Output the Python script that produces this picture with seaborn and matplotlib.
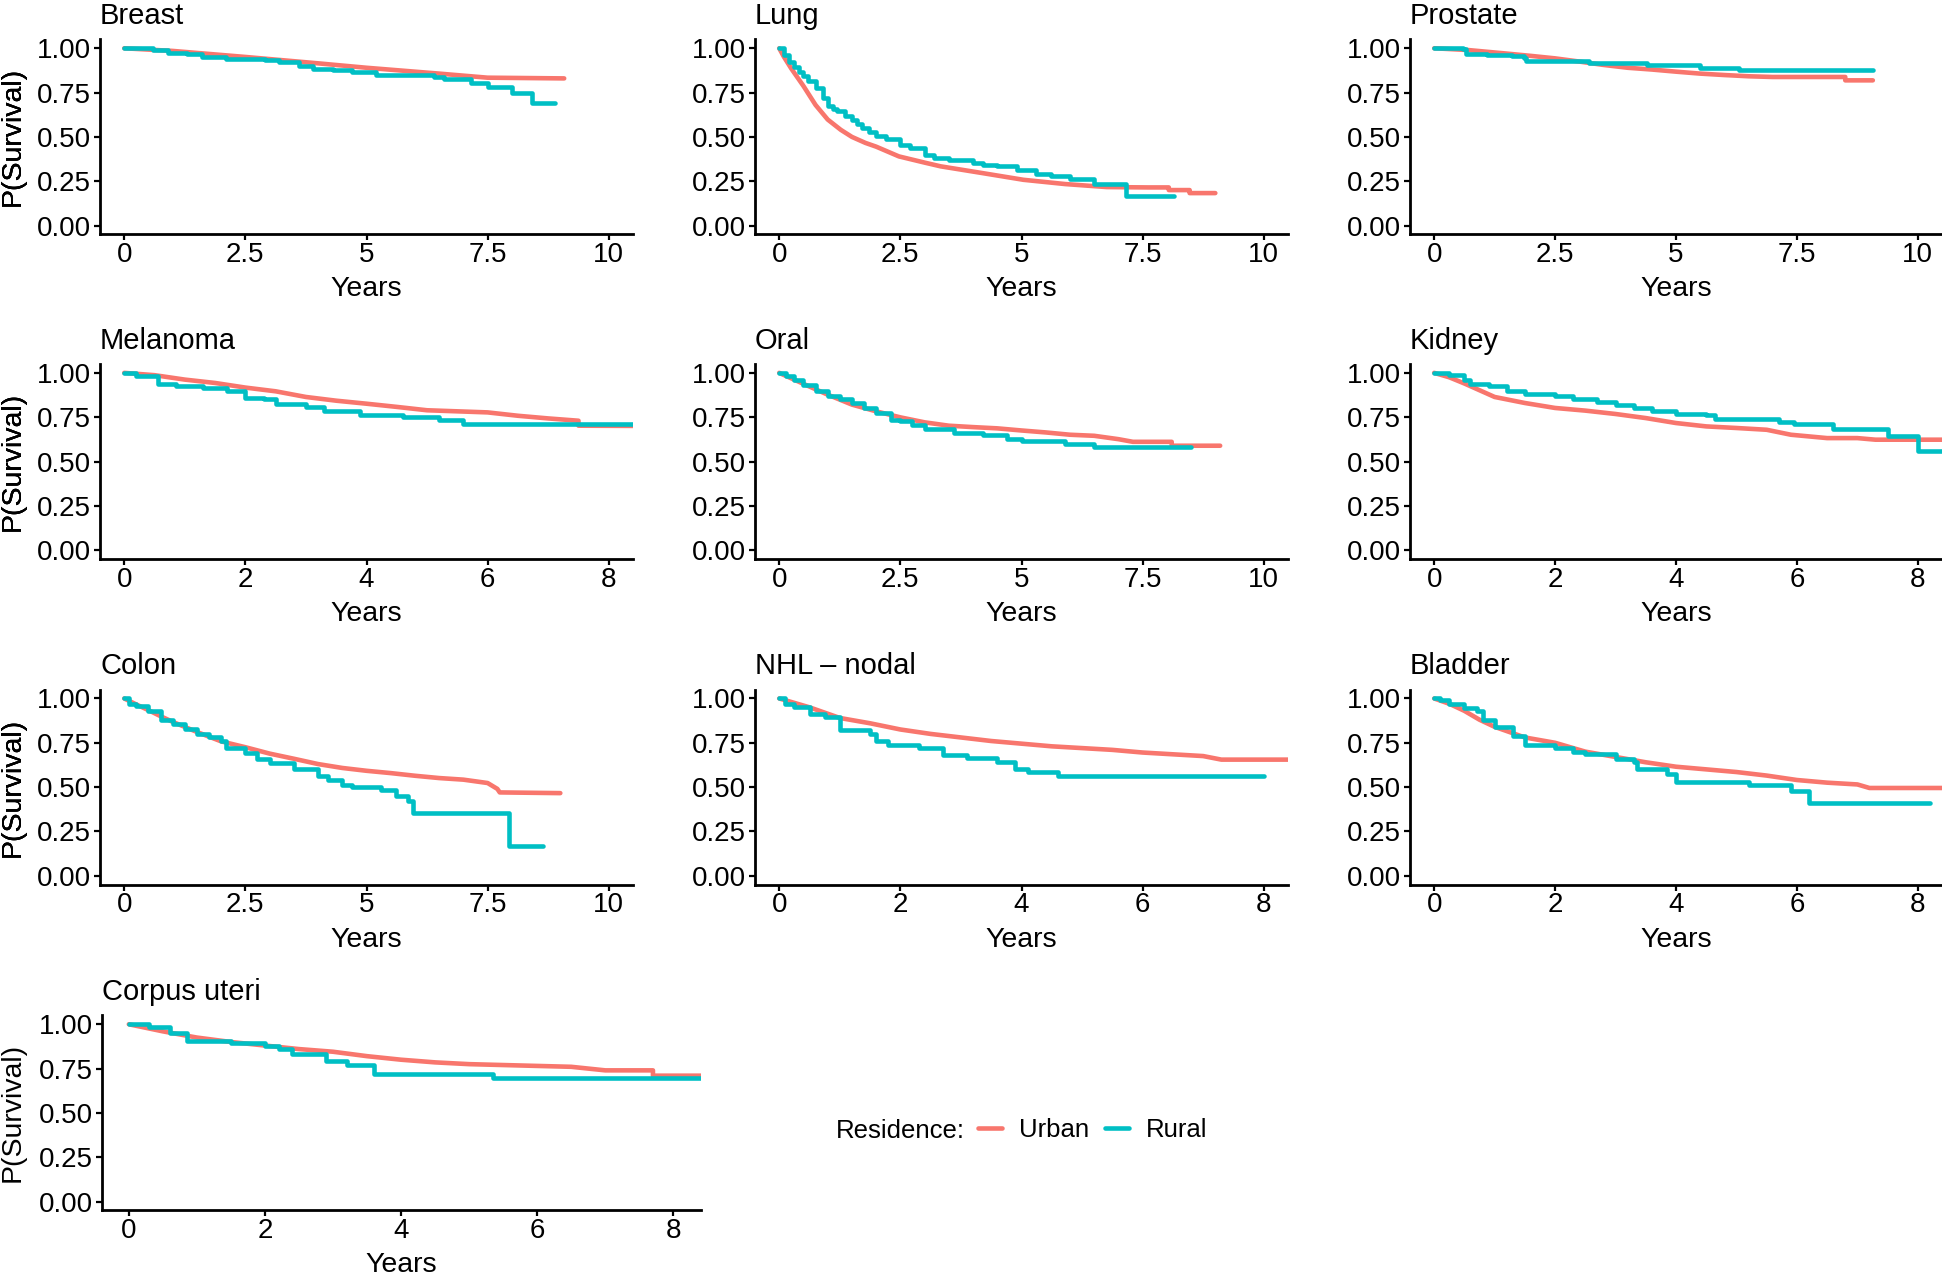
import matplotlib
matplotlib.use("Agg")
import matplotlib.pyplot as plt
import pandas as pd
import seaborn as sns

URBAN_COLOR = "#F8766D"
RURAL_COLOR = "#00BFC4"

# ---- survival curves (years, P(survival)) ----
breast_urban_t = [0, 1, 2.5, 4, 5, 6.5, 7.5, 9.08]
breast_urban_s = [1.0, 0.985, 0.951, 0.915, 0.89, 0.857, 0.834, 0.83]
breast_rural_t = [0, 0.6, 0.9, 1.3, 1.6, 2.1, 2.9, 3.2, 3.6, 3.9, 4.3, 4.7, 5.2, 6.4, 6.6, 7.15, 7.5, 8.0, 8.42, 8.9]
breast_rural_s = [1.0, 0.99, 0.975, 0.965, 0.951, 0.94, 0.935, 0.921, 0.898, 0.885, 0.875, 0.866, 0.847, 0.837, 0.826, 0.806, 0.779, 0.75, 0.69, 0.69]

lung_urban_t = [0, 0.1, 0.25, 0.5, 0.75, 1.0, 1.27, 1.5, 1.78, 2.0, 2.47, 3.0, 3.33, 4.19, 5.04, 5.9, 6.76, 7.6, 8.04, 8.04, 8.47, 8.47, 9.0]
lung_urban_s = [1.0, 0.95, 0.885, 0.787, 0.68, 0.598, 0.54, 0.5, 0.466, 0.445, 0.39, 0.355, 0.334, 0.296, 0.258, 0.234, 0.217, 0.215, 0.215, 0.2, 0.2, 0.183, 0.183]
lung_rural_t = [0, 0.1, 0.2, 0.3, 0.4, 0.5, 0.6, 0.75, 0.9, 1.0, 1.1, 1.2, 1.35, 1.5, 1.6, 1.7, 1.85, 2.0, 2.2, 2.5, 2.7, 3.0, 3.2, 3.5, 4.0, 4.2, 4.5, 4.9, 5.3, 5.6, 6.0, 6.5, 7.15, 8.15]
lung_rural_s = [1.0, 0.96, 0.925, 0.895, 0.865, 0.843, 0.815, 0.774, 0.72, 0.674, 0.66, 0.645, 0.62, 0.598, 0.575, 0.55, 0.53, 0.504, 0.49, 0.457, 0.44, 0.4, 0.38, 0.372, 0.353, 0.34, 0.334, 0.315, 0.29, 0.28, 0.262, 0.234, 0.164, 0.164]

prostate_urban_t = [0, 0.7, 1.5, 2, 2.5, 3, 3.5, 4, 4.5, 5, 5.5, 6, 6.5, 7, 8.5, 8.5, 9.07]
prostate_urban_s = [1.0, 0.99, 0.97, 0.957, 0.943, 0.925, 0.906, 0.89, 0.88, 0.868, 0.857, 0.849, 0.842, 0.838, 0.838, 0.819, 0.819]
prostate_rural_t = [0, 0.6, 0.65, 1.1, 1.6, 1.85, 1.9, 3.2, 4.4, 5.5, 6.3, 9.07]
prostate_rural_s = [1.0, 0.995, 0.97, 0.962, 0.955, 0.945, 0.928, 0.915, 0.905, 0.887, 0.875, 0.875]

melanoma_urban_t = [0, 0.5, 1, 1.5, 2, 2.5, 3, 3.5, 4, 4.5, 5, 5.5, 6, 6.5, 7, 7.5, 7.5, 9.0]
melanoma_urban_s = [1.0, 0.987, 0.962, 0.943, 0.917, 0.896, 0.864, 0.843, 0.826, 0.808, 0.789, 0.783, 0.777, 0.758, 0.743, 0.73, 0.702, 0.70]
melanoma_rural_t = [0, 0.2, 0.55, 0.85, 1.3, 1.7, 2.0, 2.3, 2.5, 3.0, 3.3, 3.9, 4.6, 5.2, 5.6, 9.0]
melanoma_rural_s = [1.0, 0.98, 0.94, 0.925, 0.915, 0.9, 0.86, 0.85, 0.825, 0.81, 0.785, 0.765, 0.75, 0.735, 0.713, 0.713]

oral_urban_t = [0, 0.5, 1, 1.5, 2, 2.5, 3, 3.5, 4, 4.5, 5, 5.5, 6, 6.5, 7, 7.3, 8.1, 8.1, 9.1]
oral_urban_s = [1.0, 0.938, 0.877, 0.821, 0.783, 0.749, 0.721, 0.702, 0.694, 0.687, 0.675, 0.664, 0.651, 0.645, 0.626, 0.611, 0.611, 0.589, 0.589]
oral_rural_t = [0, 0.15, 0.3, 0.5, 0.75, 1.0, 1.25, 1.5, 1.75, 2.0, 2.3, 2.5, 2.75, 3.0, 3.6, 4.2, 4.7, 5.0, 5.9, 6.5, 8.5]
oral_rural_s = [1.0, 0.985, 0.96, 0.934, 0.9, 0.872, 0.85, 0.83, 0.8, 0.774, 0.736, 0.726, 0.705, 0.683, 0.66, 0.651, 0.628, 0.613, 0.6, 0.581, 0.581]

kidney_urban_t = [0, 0.25, 0.5, 0.75, 1, 1.5, 2, 2.5, 3, 3.5, 4, 4.5, 5, 5.5, 5.9, 6.5, 7, 7.3, 9.0]
kidney_urban_s = [1.0, 0.975, 0.94, 0.902, 0.864, 0.83, 0.802, 0.787, 0.768, 0.745, 0.717, 0.698, 0.689, 0.679, 0.651, 0.632, 0.632, 0.623, 0.623]
kidney_rural_t = [0, 0.25, 0.5, 0.6, 0.9, 1.2, 1.5, 2.0, 2.3, 2.7, 3.0, 3.3, 3.6, 4.0, 4.5, 4.65, 5.7, 5.95, 6.6, 7.5, 8.0, 9.0]
kidney_rural_s = [1.0, 0.99, 0.96, 0.94, 0.925, 0.9, 0.88, 0.87, 0.85, 0.835, 0.82, 0.8, 0.785, 0.77, 0.76, 0.74, 0.725, 0.71, 0.685, 0.645, 0.56, 0.56]

colon_urban_t = [0, 0.25, 0.5, 0.75, 1, 1.5, 2, 2.5, 3, 3.5, 4, 4.5, 5, 5.5, 6, 6.5, 7, 7.5, 7.7, 7.75, 9.0]
colon_urban_s = [1.0, 0.966, 0.934, 0.9, 0.868, 0.811, 0.758, 0.725, 0.689, 0.66, 0.63, 0.608, 0.592, 0.579, 0.564, 0.551, 0.542, 0.523, 0.49, 0.47, 0.466]
colon_rural_t = [0, 0.1, 0.25, 0.5, 0.75, 1, 1.25, 1.5, 1.75, 2.0, 2.1, 2.5, 2.75, 3.0, 3.5, 4.0, 4.2, 4.5, 4.7, 5.3, 5.6, 5.85, 5.95, 7.95, 8.65]
colon_rural_s = [1.0, 0.97, 0.955, 0.93, 0.88, 0.855, 0.83, 0.8, 0.78, 0.76, 0.72, 0.69, 0.66, 0.635, 0.6, 0.565, 0.54, 0.51, 0.5, 0.485, 0.45, 0.42, 0.355, 0.165, 0.165]

nhl_urban_t = [0, 0.25, 0.5, 1, 1.5, 2, 2.5, 3, 3.5, 4, 4.5, 5, 5.5, 6, 6.5, 7, 7.3, 9.0]
nhl_urban_s = [1.0, 0.975, 0.95, 0.89, 0.86, 0.825, 0.8, 0.78, 0.76, 0.745, 0.73, 0.72, 0.71, 0.695, 0.685, 0.675, 0.655, 0.655]
nhl_rural_t = [0, 0.1, 0.25, 0.5, 0.75, 1.0, 1.5, 1.6, 1.8, 2.3, 2.7, 3.1, 3.6, 3.9, 4.1, 4.6, 8.0]
nhl_rural_s = [1.0, 0.97, 0.95, 0.91, 0.895, 0.82, 0.8, 0.76, 0.74, 0.72, 0.68, 0.665, 0.64, 0.6, 0.585, 0.56, 0.56]

bladder_urban_t = [0, 0.25, 0.5, 0.75, 1, 1.5, 2, 2.5, 3, 3.5, 4, 4.5, 5, 5.5, 6, 6.5, 7, 7.2, 9.0]
bladder_urban_s = [1.0, 0.97, 0.93, 0.88, 0.84, 0.78, 0.75, 0.7, 0.67, 0.64, 0.615, 0.6, 0.585, 0.565, 0.54, 0.525, 0.515, 0.495, 0.495]
bladder_rural_t = [0, 0.1, 0.25, 0.5, 0.7, 0.8, 1.0, 1.3, 1.5, 2.0, 2.3, 2.5, 3.0, 3.3, 3.35, 3.85, 4.0, 5.2, 5.9, 6.2, 8.2]
bladder_rural_s = [1.0, 0.99, 0.97, 0.945, 0.93, 0.88, 0.84, 0.79, 0.735, 0.72, 0.7, 0.685, 0.66, 0.64, 0.6, 0.575, 0.53, 0.51, 0.48, 0.41, 0.41]

corpus_urban_t = [0, 0.5, 1, 1.5, 2, 2.5, 3, 3.5, 4, 4.5, 5, 5.5, 6, 6.5, 7, 7.7, 7.7, 9.0]
corpus_urban_s = [1.0, 0.96, 0.925, 0.9, 0.88, 0.86, 0.845, 0.82, 0.8, 0.785, 0.775, 0.77, 0.765, 0.76, 0.74, 0.74, 0.71, 0.71]
corpus_rural_t = [0, 0.3, 0.6, 0.85, 1.5, 2.0, 2.2, 2.4, 2.9, 3.2, 3.6, 5.35, 9.0]
corpus_rural_s = [1.0, 0.985, 0.95, 0.905, 0.895, 0.875, 0.86, 0.83, 0.79, 0.77, 0.72, 0.695, 0.695]

titles = ["Breast", "Lung", "Prostate", "Melanoma", "Oral", "Kidney",
          "Colon", "NHL \u2013 nodal", "Bladder", "Corpus uteri"]
x_max = [10, 10, 10, 8, 10, 8, 10, 8, 8, 8]
y_ticks = [0, 0.25, 0.5, 0.75, 1.0]
y_tick_labels = ["0.00", "0.25", "0.50", "0.75", "1.00"]

curves = [
    (breast_urban_t, breast_urban_s, breast_rural_t, breast_rural_s),
    (lung_urban_t, lung_urban_s, lung_rural_t, lung_rural_s),
    (prostate_urban_t, prostate_urban_s, prostate_rural_t, prostate_rural_s),
    (melanoma_urban_t, melanoma_urban_s, melanoma_rural_t, melanoma_rural_s),
    (oral_urban_t, oral_urban_s, oral_rural_t, oral_rural_s),
    (kidney_urban_t, kidney_urban_s, kidney_rural_t, kidney_rural_s),
    (colon_urban_t, colon_urban_s, colon_rural_t, colon_rural_s),
    (nhl_urban_t, nhl_urban_s, nhl_rural_t, nhl_rural_s),
    (bladder_urban_t, bladder_urban_s, bladder_rural_t, bladder_rural_s),
    (corpus_urban_t, corpus_urban_s, corpus_rural_t, corpus_rural_s),
]

sns.set_theme(style="ticks")
plt.rcParams["font.family"] = ["Liberation Sans", "DejaVu Sans"]
plt.rcParams["text.color"] = "black"
plt.rcParams["axes.labelcolor"] = "black"

W, H = 1942, 1275
fig = plt.figure(figsize=(W / 100, H / 100), dpi=100)

# axes boxes in pixels: (left, top, width, height)
col_left = [100, 755, 1410]
row_top = [39.4, 364, 689.6, 1015.4]
ax_w, ax_h = 533, 195


def panel_box(i):
    if i == 9:
        return (101.6, row_top[3], 599, ax_h)
    r, c = divmod(i, 3)
    return (col_left[c], row_top[r], min(ax_w, W - col_left[c]), ax_h)


for i, title in enumerate(titles):
    left, top, w, h = panel_box(i)
    ax = fig.add_axes([left / W, 1 - (top + h) / H, w / W, h / H])
    ut, us, rt, rs = curves[i]
    urban = pd.DataFrame({"Years": ut, "surv": us})
    rural = pd.DataFrame({"Years": rt, "surv": rs})
    sns.lineplot(data=urban, x="Years", y="surv", color=URBAN_COLOR, linewidth=3.3,
                 sort=False, estimator=None, ax=ax, label="Urban", legend=False)
    sns.lineplot(data=rural, x="Years", y="surv", color=RURAL_COLOR, linewidth=3.3,
                 sort=False, estimator=None, drawstyle="steps-post", ax=ax,
                 label="Rural", legend=False)

    xm = x_max[i]
    if xm == 10:
        ax.set_xticks([0, 2.5, 5, 7.5, 10])
        ax.set_xticklabels(["0", "2.5", "5", "7.5", "10"])
    else:
        ax.set_xticks([0, 2, 4, 6, 8])
        ax.set_xticklabels(["0", "2", "4", "6", "8"])
    ax.set_xlim(-0.05 * xm, 1.05 * xm)
    ax.set_ylim(-0.05, 1.05)
    ax.set_yticks(y_ticks)
    ax.set_yticklabels(y_tick_labels)

    for s in ["top", "right"]:
        ax.spines[s].set_visible(False)
    for s in ["left", "bottom"]:
        ax.spines[s].set_linewidth(2.0)
        ax.spines[s].set_color("black")
    ax.tick_params(axis="both", length=4.5, width=1.6, color="black",
                   labelsize=20, labelcolor="black")
    ax.tick_params(axis="x", pad=1.0)
    ax.tick_params(axis="y", pad=2.0)

    ax.set_xlabel("Years", fontsize=20.5)
    ax.set_ylabel("P(Survival)", fontsize=20.5)
    ax.xaxis.set_label_coords(0.5, -0.215)
    ax.yaxis.set_label_coords((26 - left) / w, 0.5)
    ax.set_title(title, loc="left", fontsize=21, pad=11)
    ax.grid(False)

# legend
handles = ax.get_lines()[:2]
fig.text(836 / W, 1 - 1138 / H, "Residence:", fontsize=18.5, va="baseline", ha="left")
fig.legend(handles=handles, labels=["Urban", "Rural"], ncol=2, frameon=False,
           loc="center left", bbox_to_anchor=(978 / W, 1 - 1130 / H),
           fontsize=18.5, handlelength=0.95, handletextpad=0.65, columnspacing=0.6,
           borderpad=0, borderaxespad=0)

fig.savefig("out.png", dpi=100)
